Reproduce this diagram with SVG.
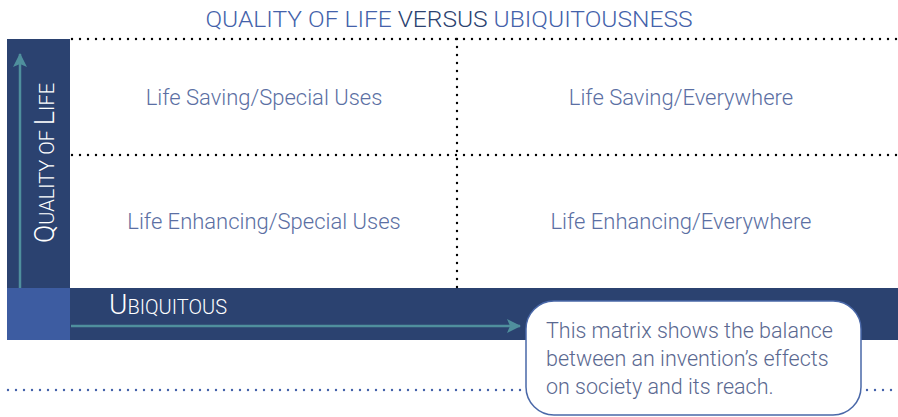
<svg xmlns="http://www.w3.org/2000/svg" width="898" height="417" viewBox="0 0 898 417">
  <style>
    .t { font-family: Roboto, "Liberation Sans", Arial, sans-serif; font-weight: 300; }
    .title { font-size: 22px; fill: #4462aa; }
    .dark { fill: #2b4270; }
    .cell { font-size: 22px; fill: #5b6fa3; text-anchor: middle; }
    .axis { fill: #ffffff; }
    .note { font-size: 21.5px; fill: #5a6890; }
    .grid { stroke: #000; stroke-width: 2.4; stroke-linecap: round; stroke-dasharray: 0 8; fill: none; }
    .guide { stroke: #4462aa; stroke-width: 2.4; stroke-linecap: round; stroke-dasharray: 0 8; fill: none; }
    .arrow { stroke: #4f8f9d; stroke-width: 2.5; fill: none; }
  </style>
  <defs>
    <marker id="head" viewBox="0 0 14 14" refX="13" refY="7" markerWidth="14" markerHeight="14" markerUnits="userSpaceOnUse" orient="auto">
      <path d="M0,0 L14,7 L0,14 L3,7 Z" fill="#4f8f9d"/>
    </marker>
  </defs>

  <rect width="898" height="417" fill="#ffffff"/>

  <!-- title -->
  <text class="t title" x="449" y="27" text-anchor="middle" textLength="487" lengthAdjust="spacingAndGlyphs">QUALITY OF LIFE <tspan class="dark">VERSUS</tspan> UBIQUITOUSNESS</text>

  <!-- axis bars -->
  <g id="y-axis">
    <rect x="7" y="39" width="63" height="250" fill="#2b4270"/>
    <text class="t axis" transform="translate(54,163) rotate(-90)" text-anchor="middle"><tspan font-size="27">Q</tspan><tspan font-size="20">UALITY OF </tspan><tspan font-size="27">L</tspan><tspan font-size="20">IFE</tspan></text>
  </g>
  <g id="x-axis">
    <rect x="70" y="288" width="828" height="52" fill="#2b4270"/>
    <rect x="7" y="288" width="63" height="52" fill="#3d5ca1"/>
    <text class="t axis" x="109" y="314"><tspan font-size="28">U</tspan><tspan font-size="20">BIQUITOUS</tspan></text>
  </g>

  <!-- grid and axis arrows -->
  <g id="connectors">
    <path class="grid" d="M72,39 H898"/>
    <path class="grid" d="M72,155 H898"/>
    <path class="grid" d="M457,39 V288"/>
    <path class="guide" d="M8,390 H524"/>
    <path class="guide" d="M867,390 H898"/>
    <path class="arrow" d="M20,288 V54" marker-end="url(#head)"/>
    <path class="arrow" d="M71,326 H520" marker-end="url(#head)"/>
  </g>

  <!-- quadrants -->
  <g id="saving-special"><text class="t cell" x="264" y="105">Life Saving/Special Uses</text></g>
  <g id="saving-everywhere"><text class="t cell" x="681" y="105">Life Saving/Everywhere</text></g>
  <g id="enhancing-special"><text class="t cell" x="264" y="229">Life Enhancing/Special Uses</text></g>
  <g id="enhancing-everywhere"><text class="t cell" x="681" y="229">Life Enhancing/Everywhere</text></g>

  <!-- explanatory note -->
  <g id="note">
    <rect x="526" y="301" width="335" height="114" rx="28" ry="28" fill="#ffffff" stroke="#4a68a8" stroke-width="1.5"/>
    <text class="t note" x="546" y="338">This matrix shows the balance</text>
    <text class="t note" x="546" y="366">between an invention’s effects</text>
    <text class="t note" x="546" y="394">on society and its reach.</text>
  </g>
</svg>
